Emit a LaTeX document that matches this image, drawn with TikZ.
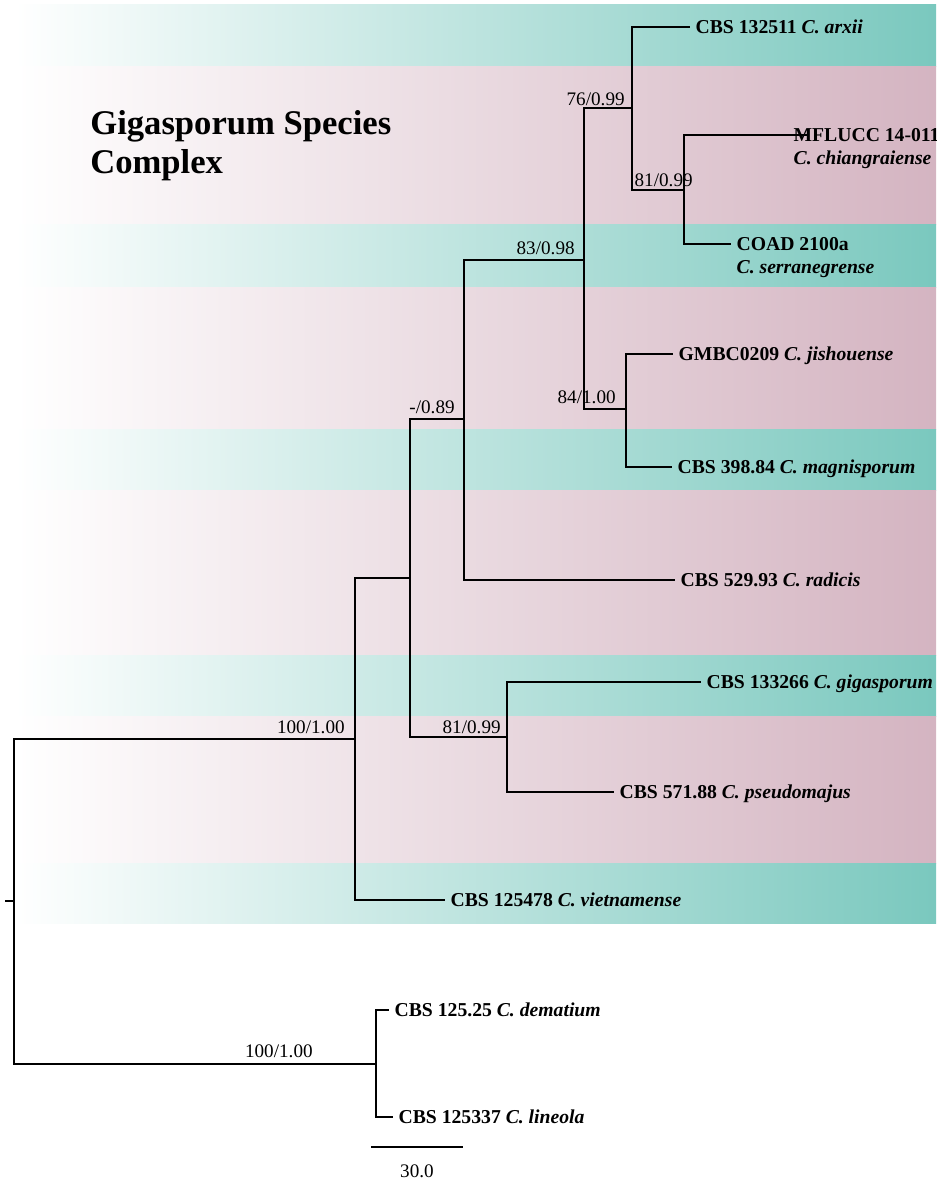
\documentclass[tikz,border=0pt]{standalone}
\usepackage{fontspec}
\setmainfont{Liberation Serif}
\usetikzlibrary{positioning}

\definecolor{tealband}{RGB}{122,200,190}
\definecolor{pinkband}{RGB}{212,180,193}

\tikzset{
    branch/.style={line width=1.1pt, black},
    leaf/.style={anchor=west, inner xsep=3pt, inner ysep=0pt, text height=7.4pt, text depth=0pt,
        font=\fontsize{11.2}{13}\selectfont\bfseries},
    leafsub/.style={anchor=base west, inner sep=0pt, font=\fontsize{11.2}{13}\selectfont\bfseries\itshape},
    support/.style={anchor=base east, inner sep=0pt, font=\fontsize{10.9}{13}\selectfont},
    title/.style={anchor=base west, inner sep=0pt, font=\fontsize{19.7}{22}\selectfont\bfseries},
}

\begin{document}
\begin{tikzpicture}[x={(0.02cm,0)}, y={(0,-0.02cm)}]

    \useasboundingbox (0,0) rectangle (936,1182);

    % background bands
    \foreach \ya/\yb/\col in {5/67/tealband, 67/225/pinkband, 225/288/tealband,
        288/429/pinkband, 429/490/tealband, 490/655/pinkband, 655/716/tealband,
        716/863/pinkband, 863/923/tealband} {
        \shade[left color=white, right color=\col] (15,\ya) rectangle (936,\yb);
    }

    \node[title] (ttlA) at (90,135) {Gigasporum Species};
    \node[title] (ttlB) at (90,174) {Complex};

    % inner nodes
    \coordinate (stub) at (5,901);
    \coordinate (root) at (14,901);
    \coordinate (nA) at (355,739);
    \coordinate (nB) at (410,578);
    \coordinate (nC) at (464,419);
    \coordinate (nD) at (584,260);
    \coordinate (nE) at (632,108);
    \coordinate (nF) at (684,190);
    \coordinate (nG) at (626,409);
    \coordinate (nH) at (507,737);
    \coordinate (nI) at (376,1064);

    % leaves
    \node[leaf] (arxii) at (690,27) {CBS 132511 \textit{C. arxii}};
    \node[leaf] (chiang) at (788,135) {MFLUCC 14-0111};
    \node[leafsub] (chiangsp) at ([xshift=3pt,yshift=-13pt]chiang.base west) {C. chiangraiense};
    \node[leaf] (coad) at (731,244) {COAD 2100a};
    \node[leafsub] (coadsp) at ([xshift=3pt,yshift=-13pt]coad.base west) {C. serranegrense};
    \node[leaf] (jishou) at (673,354) {GMBC0209 \textit{C. jishouense}};
    \node[leaf] (magni) at (672,467) {CBS 398.84 \textit{C. magnisporum}};
    \node[leaf] (radicis) at (675,580) {CBS 529.93 \textit{C. radicis}};
    \node[leaf] (giga) at (701,682) {CBS 133266 \textit{C. gigasporum}};
    \node[leaf] (pseudo) at (614,792) {CBS 571.88 \textit{C. pseudomajus}};
    \node[leaf] (viet) at (445,900) {CBS 125478 \textit{C. vietnamense}};
    \node[leaf] (demat) at (389,1010) {CBS 125.25 \textit{C. dematium}};
    \node[leaf] (lineola) at (393,1117) {CBS 125337 \textit{C. lineola}};

    % branches
    \draw[branch] (stub) -- (root);
    \draw[branch] (root) |- (nA);
    \draw[branch] (root) |- (nI);
    \draw[branch] (nA) |- (nB);
    \draw[branch] (nA) |- (viet.west);
    \draw[branch] (nB) |- (nC);
    \draw[branch] (nB) |- (nH);
    \draw[branch] (nC) |- (nD);
    \draw[branch] (nC) |- (radicis.west);
    \draw[branch] (nD) |- (nE);
    \draw[branch] (nD) |- (nG);
    \draw[branch] (nE) |- (arxii.west);
    \draw[branch] (nE) |- (nF);
    \draw[branch] (nF) |- ([xshift=12pt]chiang.west);
    \draw[branch] (nF) |- (coad.west);
    \draw[branch] (nG) |- (jishou.west);
    \draw[branch] (nG) |- (magni.west);
    \draw[branch] (nH) |- (giga.west);
    \draw[branch] (nH) |- (pseudo.west);
    \draw[branch] (nI) |- (demat.west);
    \draw[branch] (nI) |- (lineola.west);

    % support values
    \node[support] (s76) at (625,106) {76/0.99};
    \node[support] (s81a) at (693,187) {81/0.99};
    \node[support] (s83) at (575,255) {83/0.98};
    \node[support] (s84) at (616,403) {84/1.00};
    \node[support] (s89) at (455,413) {-/0.89};
    \node[support] (s81b) at (501,733) {81/0.99};
    \node[support] (s100a) at (345,733) {100/1.00};
    \node[support] (s100b) at (313,1057) {100/1.00};

    % scale bar
    \coordinate (barL) at (371,1147);
    \coordinate (barR) at (463,1147);
    \draw[branch] (barL) -- (barR);
    \node[support, anchor=base] (barlbl) at (417,1177) {30.0};

\end{tikzpicture}
\end{document}
